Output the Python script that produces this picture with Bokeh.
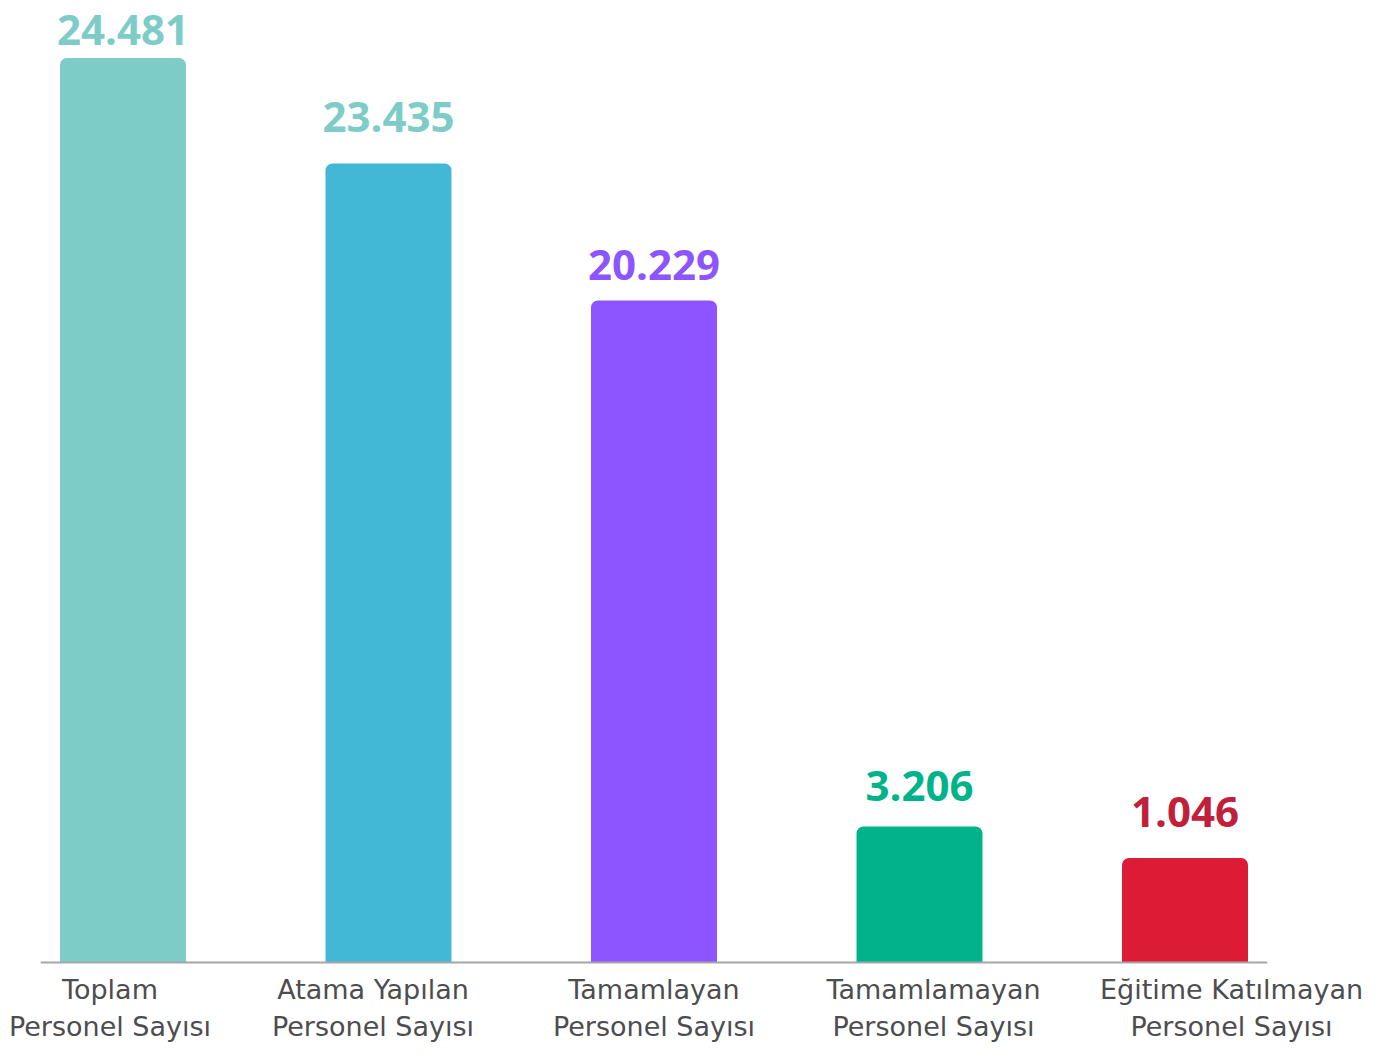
from bokeh.plotting import figure
from bokeh.models import ColumnDataSource, Range1d
from bokeh.core.properties import value
from bokeh.embed import file_html
from bokeh.resources import INLINE

# ---- data ----
categories = [
    "Toplam\nPersonel Sayısı",
    "Atama Yapılan\nPersonel Sayısı",
    "Tamamlayan\nPersonel Sayısı",
    "Tamamlamayan\nPersonel Sayısı",
    "Eğitime Katılmayan\nPersonel Sayısı",
]
values = [24481, 23435, 20229, 3206, 1046]
value_labels = ["24.481", "23.435", "20.229", "3.206", "1.046"]
# bar heights as drawn in the picture (the original is not to scale)
bar_heights = [24481, 21626, 17918, 3681, 2828]

bar_colors = ["#7ECCC8", "#42B8D6", "#8C55FF", "#00B38A", "#DC1C34"]
label_colors = ["#7ECCC8", "#7ECCC8", "#8C55FF", "#00B38A", "#C0203C"]
label_gaps = [28, 46, 35, 41, 46]          # px between bar top and label anchor
cat_offsets = [-13, -15.5, 0, 14, 46.5]    # px horizontal shift of category labels

xs = list(range(len(categories)))
line1 = [c.split("\n")[0] for c in categories]
line2 = [c.split("\n")[1] for c in categories]

src = ColumnDataSource(dict(
    x=xs, h=bar_heights, val=value_labels, bc=bar_colors, lc=label_colors,
    gap=[-g for g in label_gaps], cx=cat_offsets, l1=line1, l2=line2,
    zero=[0] * len(xs),
))

p = figure(width=1384, height=1043, output_backend="svg", toolbar_location=None,
           x_axis_type=None, y_axis_type=None,
           x_range=Range1d(-0.4614, 4.7514), y_range=Range1d(-2192, 26037))
p.min_border = 0
p.outline_line_color = None
p.grid.visible = False
p.background_fill_color = "white"
p.border_fill_color = "white"

p.vbar(x="x", top="h", bottom=0, width=0.4746, source=src,
       fill_color="bc", line_color=None, border_radius=(7, 7, 0, 0))

# baseline
n = len(xs)
p.line(x=[-0.31, n - 1 + 0.31], y=[0, 0], line_color="#A6A6A6", line_width=2)

# value labels
p.text(x="x", y="h", text="val", source=src, y_offset="gap",
       text_align="center", text_baseline="alphabetic",
       text_color="lc", text_font=value("Open Sans"), text_font_style="bold",
       text_font_size="42px")

# category labels
p.text(x="x", y="zero", text="l1", source=src, x_offset="cx", y_offset=27,
       text_align="center", text_baseline="alphabetic",
       text_color="#4D4D4F", text_font=value("DejaVu Sans"), text_font_size="27px")
p.text(x="x", y="zero", text="l2", source=src, x_offset="cx", y_offset=64,
       text_align="center", text_baseline="alphabetic",
       text_color="#4D4D4F", text_font=value("DejaVu Sans"), text_font_size="27px")

open("out.html", "w").write(file_html(p, INLINE))
